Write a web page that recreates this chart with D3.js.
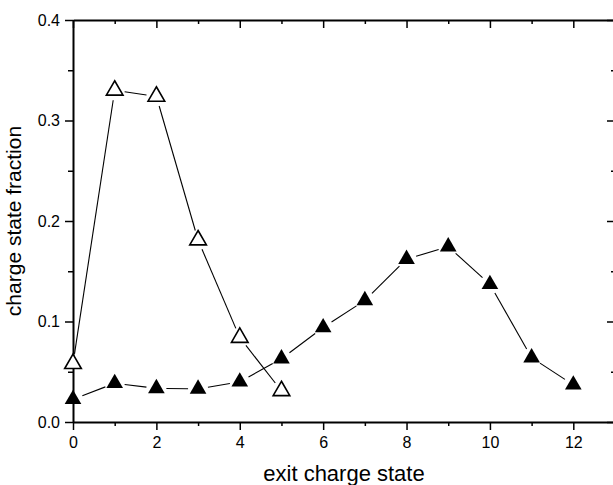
<!DOCTYPE html>
<html>
<head>
<meta charset="utf-8">
<script src="https://cdn.jsdelivr.net/npm/d3@7"></script>
<style>
  body { margin: 0; background: #fff; }
  text { font-family: "Liberation Sans", Arial, sans-serif; fill: #000; }
</style>
</head>
<body>
<div id="chart"></div>
<script>
// exit charge states and fractions
var chargeStates = [0, 1, 2, 3, 4, 5, 6, 7, 8, 9, 10, 11, 12];
var filledFractions = [0.0226, 0.0385, 0.0335, 0.033, 0.040, 0.063, 0.094, 0.121, 0.162, 0.1745, 0.137, 0.064, 0.037];
var openStates = [0, 1, 2, 3, 4, 5];
var openFractions = [0.058, 0.330, 0.324, 0.181, 0.084, 0.031];
var xTicks = [0, 2, 4, 6, 8, 10, 12];
var yTicks = [0.0, 0.1, 0.2, 0.3, 0.4];

var W = 613, H = 485;
var margin = {top: 20, right: -2, bottom: 63, left: 73};
var width = W - margin.left - margin.right;
var height = H - margin.top - margin.bottom;

var svg = d3.select("#chart")
  .append("svg")
    .attr("width", W)
    .attr("height", H)
  .append("g")
    .attr("transform", "translate(" + margin.left + "," + margin.top + ")");

var x = d3.scaleLinear().domain([0, 13]).range([0, width]);
var y = d3.scaleLinear().domain([0, 0.4]).range([height, 0]);

// minor ticks on every axis
var xMinor = d3.range(1, 13, 2);
var yMinor = [0.05, 0.15, 0.25, 0.35];

function styleAxis(g) {
  g.select(".domain").attr("stroke", "#000").attr("stroke-width", 2);
  g.selectAll(".tick line").attr("stroke", "#000").attr("stroke-width", 1.5);
  g.selectAll("text").style("font-size", "16px").style("font-family", "Liberation Sans, Arial, sans-serif");
}
function styleMinor(g) {
  g.select(".domain").remove();
  g.selectAll("line").attr("stroke", "#000").attr("stroke-width", 1.5);
}

// bottom axis
svg.append("g")
  .attr("transform", "translate(0," + height + ")")
  .call(d3.axisBottom(x).tickValues(xTicks).tickSize(8).tickSizeOuter(0).tickPadding(7).tickFormat(d3.format("d")))
  .call(styleAxis);
svg.append("g")
  .attr("transform", "translate(0," + height + ")")
  .call(d3.axisBottom(x).tickValues(xMinor).tickSize(4).tickFormat(""))
  .call(styleMinor);

// left axis
svg.append("g")
  .call(d3.axisLeft(y).tickValues(yTicks).tickSize(8).tickSizeOuter(0).tickPadding(5).tickFormat(d3.format(".1f")))
  .call(styleAxis);
svg.append("g")
  .call(d3.axisLeft(y).tickValues(yMinor).tickSize(5).tickFormat(""))
  .call(styleMinor);

// top axis, ticks inward
svg.append("g")
  .call(d3.axisBottom(x).tickValues(xTicks).tickSize(8).tickSizeOuter(0).tickFormat(""))
  .call(styleAxis);
svg.append("g")
  .call(d3.axisBottom(x).tickValues(xMinor).tickSize(4).tickFormat(""))
  .call(styleMinor);

// right axis, ticks inward
svg.append("g")
  .attr("transform", "translate(" + width + ",0)")
  .call(d3.axisLeft(y).tickValues(yTicks).tickSize(8).tickSizeOuter(0).tickFormat(""))
  .call(styleAxis);
svg.append("g")
  .attr("transform", "translate(" + width + ",0)")
  .call(d3.axisLeft(y).tickValues(yMinor).tickSize(4).tickFormat(""))
  .call(styleMinor);

// connecting segments, cut short near the markers
function segments(xs, ys) {
  var out = [];
  for (var i = 0; i < xs.length - 1; i++) {
    out.push([[x(xs[i]), y(ys[i])], [x(xs[i + 1]), y(ys[i + 1])]]);
  }
  return out;
}
function drawSegments(segs) {
  var gap = 10;
  function pt(d, end, k) {
    var dx = d[1][0] - d[0][0], dy = d[1][1] - d[0][1], L = Math.hypot(dx, dy);
    var delta = (k === 0 ? dx : dy) * gap / L;
    return end === 0 ? d[0][k] + delta : d[1][k] - delta;
  }
  svg.append("g")
    .selectAll("line")
    .data(segs)
    .enter()
    .append("line")
      .attr("x1", function(d) { return pt(d, 0, 0); })
      .attr("y1", function(d) { return pt(d, 0, 1); })
      .attr("x2", function(d) { return pt(d, 1, 0); })
      .attr("y2", function(d) { return pt(d, 1, 1); })
      .attr("stroke", "#000")
      .attr("stroke-width", 1.1);
}
drawSegments(segments(openStates, openFractions));
drawSegments(segments(chargeStates, filledFractions));

var tri = d3.symbol().type(d3.symbolTriangle).size(120);

// open triangles
svg.append("g")
  .selectAll("path")
  .data(openStates)
  .enter()
  .append("path")
    .attr("d", tri)
    .attr("transform", function(d, i) { return "translate(" + x(d) + "," + y(openFractions[i]) + ")"; })
    .attr("fill", "#fff")
    .attr("stroke", "#000")
    .attr("stroke-width", 1.6);

// filled triangles
svg.append("g")
  .selectAll("path")
  .data(chargeStates)
  .enter()
  .append("path")
    .attr("d", tri)
    .attr("transform", function(d, i) { return "translate(" + x(d) + "," + y(filledFractions[i]) + ")"; })
    .attr("fill", "#000");

// axis titles
svg.append("text")
  .attr("text-anchor", "middle")
  .attr("x", x(6.5))
  .attr("y", height + 59)
  .style("font-size", "22px")
  .text("exit charge state");

svg.append("text")
  .attr("text-anchor", "middle")
  .attr("transform", "translate(" + (-52) + "," + (height / 2) + ") rotate(-90)")
  .style("font-size", "21px")
  .text("charge state fraction");
</script>
</body>
</html>
